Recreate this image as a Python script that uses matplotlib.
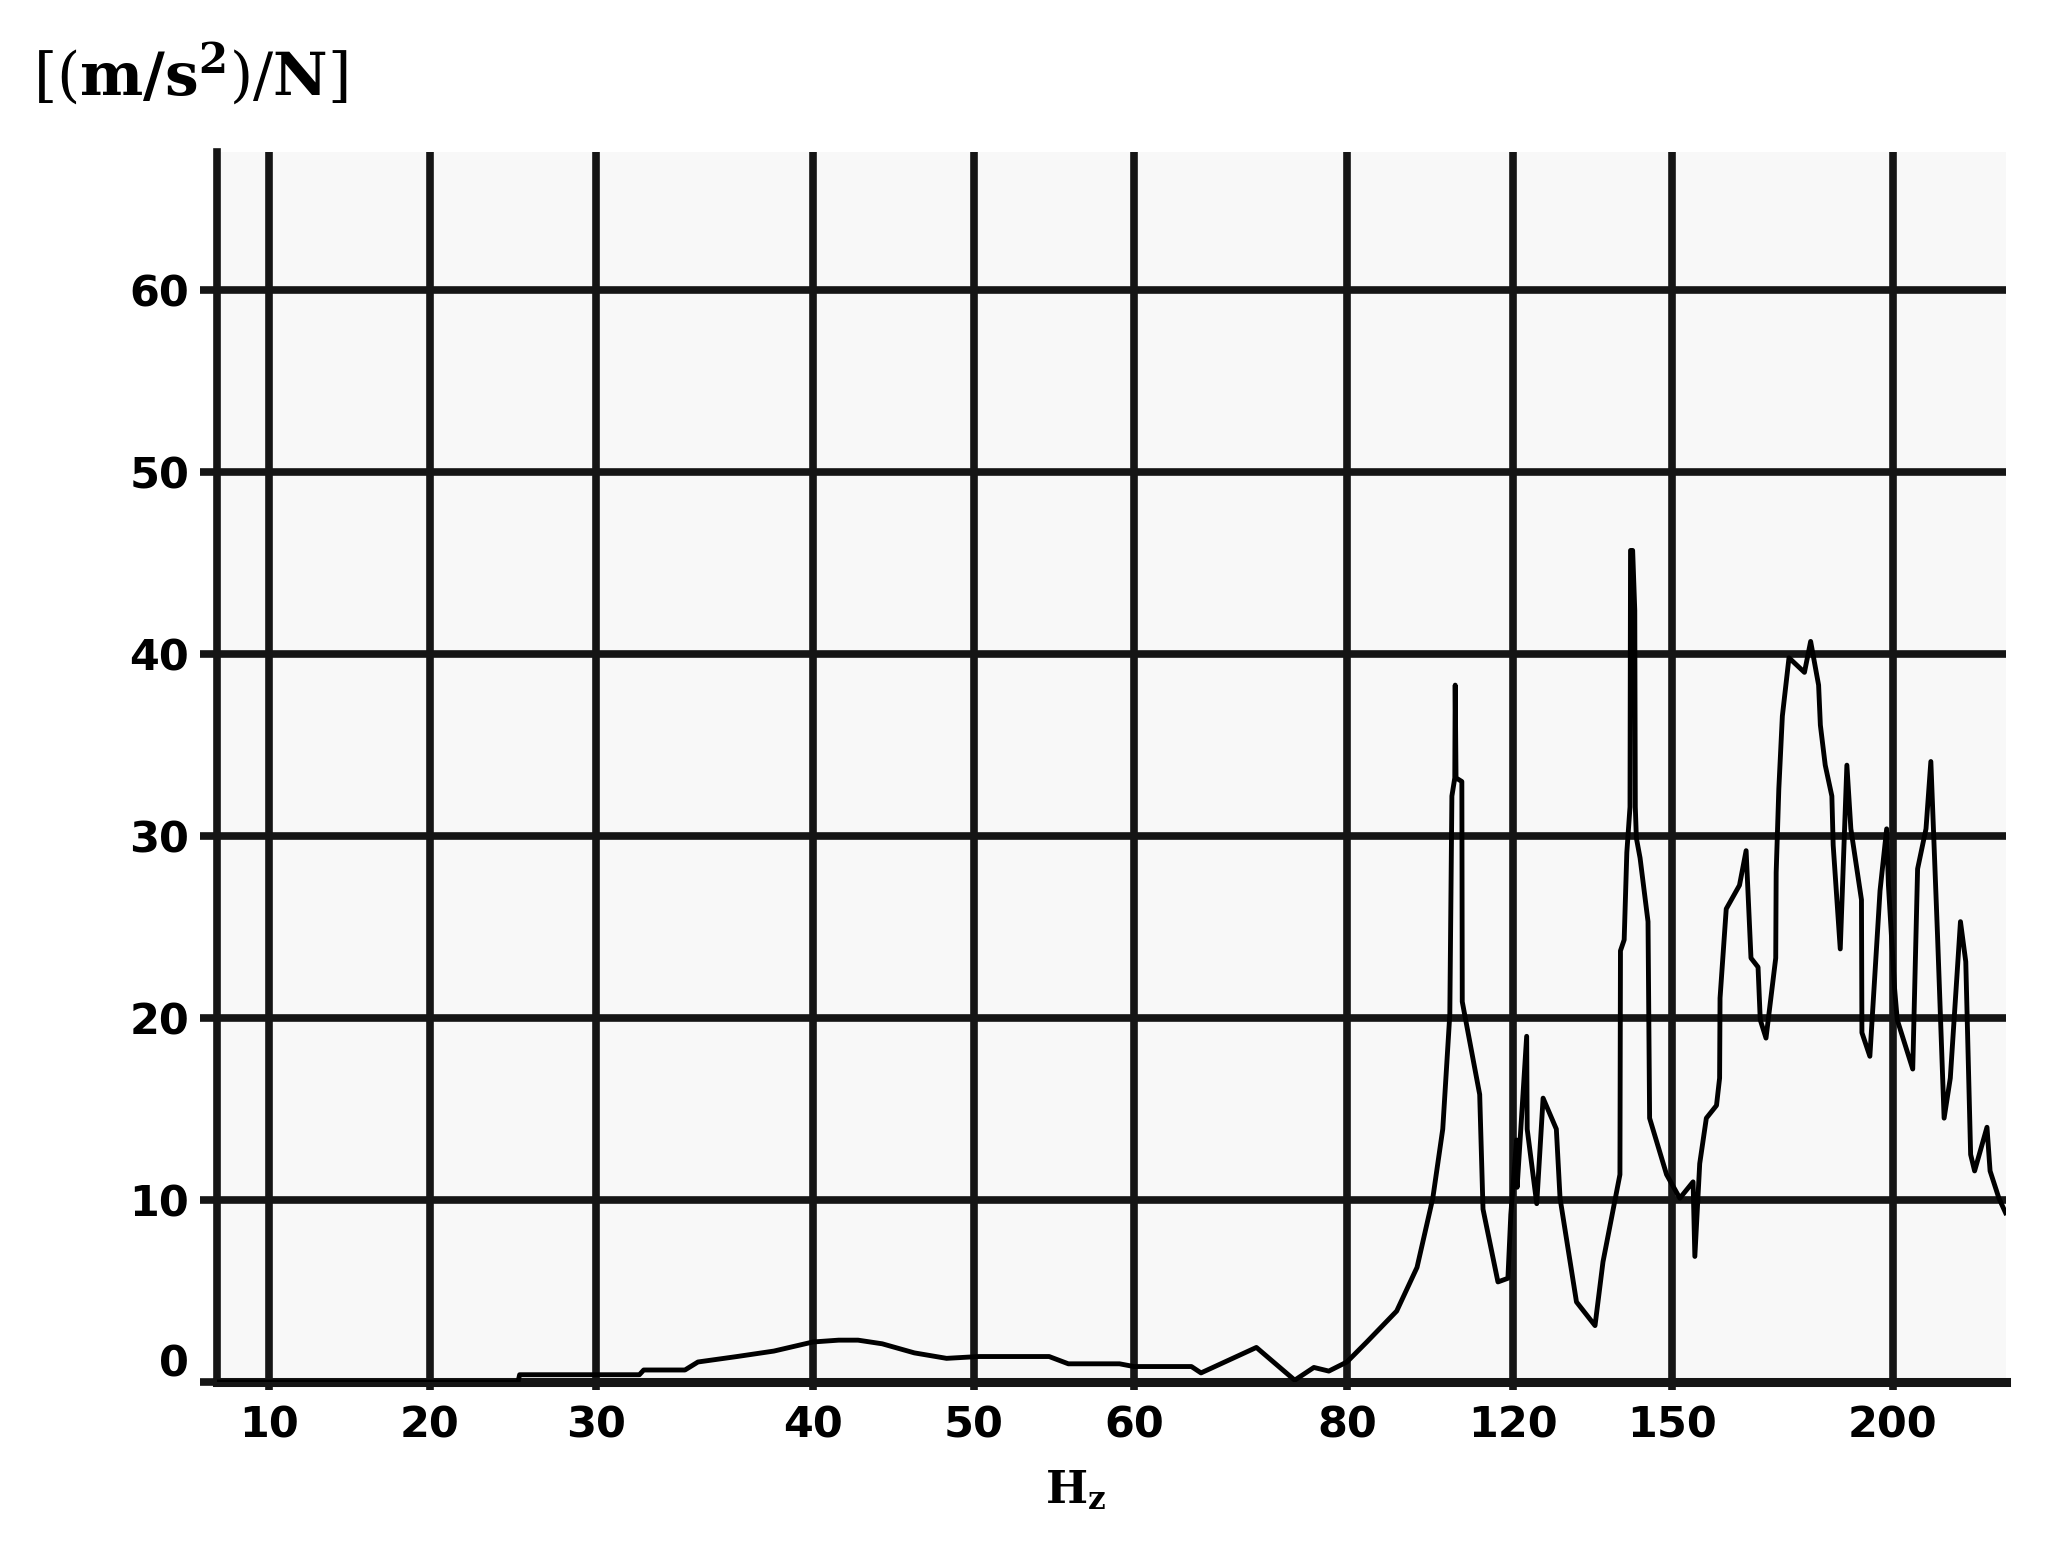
import numpy as np
import matplotlib
matplotlib.use("Agg")
import matplotlib.pyplot as plt
from matplotlib.transforms import ScaledTranslation

# frequency response (Hz, (m/s^2)/N)
freq = [6.8, 25.3, 25.4, 32.0, 32.2, 34.1, 34.7, 36.5, 38.2, 40.0,
        41.6, 42.8, 44.3, 46.3, 48.3, 50.3, 54.7, 55.9, 59.1, 60.0,
        65.4, 66.3, 71.5, 75.1, 76.9, 78.3, 80.0, 84.8, 92.0, 96.9,
        100.7, 103.1, 104.8, 105.3, 106.0, 106.1, 106.3, 107.7, 107.8, 112.0,
        112.8, 116.4, 118.8, 119.5, 120.7, 120.8, 122.6, 122.7, 124.5, 125.7,
        128.2, 128.9, 132.0, 135.5, 137.0, 140.2, 140.3, 141.0, 141.5, 142.1,
        142.2, 142.6, 143.0, 143.1, 143.3, 144.0, 145.5, 145.8, 149.0, 151.8,
        154.8, 155.2, 156.3, 157.8, 160.1, 160.8, 160.9, 162.3, 165.3, 166.8,
        167.9, 169.5, 170.0, 171.3, 173.5, 173.6, 174.2, 175.0, 176.5, 180.0,
        181.4, 183.2, 183.6, 184.7, 186.2, 186.5, 188.1, 189.6, 190.5, 192.9,
        193.0, 194.8, 197.1, 198.6, 199.0, 200.4, 201.0, 204.5, 205.6, 207.5,
        208.6, 210.1, 211.6, 213.0, 215.3, 216.5, 217.6, 218.5, 221.3, 222.0,
        224.0, 225.5]
accel = [0.0, 0.0, 0.4, 0.4, 0.66, 0.66, 1.1, 1.4, 1.7, 2.2,
         2.3, 2.3, 2.1, 1.6, 1.3, 1.4, 1.4, 1.0, 1.0, 0.85,
         0.85, 0.5, 1.9, 0.1, 0.8, 0.6, 1.1, 2.2, 3.9, 6.3,
         10.1, 13.9, 20.2, 32.2, 33.2, 38.3, 33.2, 33.0, 20.9, 15.8,
         9.5, 5.5, 5.7, 9.2, 13.3, 10.7, 19.0, 13.9, 9.8, 15.6,
         13.9, 10.1, 4.4, 3.1, 6.6, 11.4, 23.7, 24.3, 29.1, 31.6,
         45.7, 45.7, 42.4, 31.6, 29.9, 28.8, 25.3, 14.5, 11.4, 10.1,
         11.0, 6.9, 12.0, 14.5, 15.2, 16.7, 21.1, 26.0, 27.3, 29.2,
         23.3, 22.8, 19.9, 18.9, 23.3, 28.0, 32.6, 36.6, 39.8, 39.0,
         40.7, 38.3, 36.1, 33.9, 32.2, 29.5, 23.8, 33.9, 30.4, 26.5,
         19.2, 17.9, 27.0, 30.4, 27.3, 21.6, 19.9, 17.2, 28.2, 30.4,
         34.1, 24.6, 14.5, 16.7, 25.3, 23.1, 12.5, 11.6, 14.0, 11.6,
         10.1, 9.3]

x_ticks = [10, 20, 30, 40, 50, 60, 80, 120, 150, 200]
y_ticks = [0, 10, 20, 30, 40, 50, 60]

# the original axis is neither linear nor log: piecewise spacing between labels
knot_hz = [5, 10, 20, 30, 40, 50, 60, 80, 120, 150, 200, 250]
knot_pos = [188.5, 269, 430, 596, 813, 974, 1134, 1347, 1513, 1672, 1893, 2114]


def forward(v):
    return np.interp(v, knot_hz, knot_pos)


def inverse(v):
    return np.interp(v, knot_pos, knot_hz)


fig = plt.figure(figsize=(20.57, 15.6), dpi=100)
ax = fig.add_axes([0.1055, 0.1141, 0.8697, 0.7885])
ax.set_facecolor("#f8f8f8")

ax.set_xscale("function", functions=(forward, inverse))
ax.set_xlim(6.77, 225.6)
ax.set_ylim(0, 67.6)

ax.plot(freq, accel, color="black", lw=3.5, zorder=3)

grid_c = "#151515"
ax.set_xticks(x_ticks)
ax.set_yticks(y_ticks)
ax.set_xticklabels([str(t) for t in x_ticks])
ax.set_yticklabels([str(t) for t in y_ticks])
ax.minorticks_off()
ax.grid(True, color=grid_c, lw=5.5)
ax.set_axisbelow(True)

for s in ["top", "right"]:
    ax.spines[s].set_visible(False)
ax.spines["left"].set_linewidth(5.5)
ax.spines["left"].set_color(grid_c)
ax.spines["bottom"].set_linewidth(6.5)
ax.spines["bottom"].set_color(grid_c)

ax.tick_params(axis="y", direction="out", length=12, width=5.5, color=grid_c, pad=8)
ax.tick_params(axis="x", direction="out", length=6, width=5.5, color=grid_c, pad=10)
for lab in ax.get_xticklabels() + ax.get_yticklabels():
    lab.set_fontsize(31)
    lab.set_fontweight("bold")
    lab.set_fontfamily("DejaVu Sans")

# the 0 label sits a little above the baseline in the original
zero = ax.get_yticklabels()[0]
zero.set_transform(zero.get_transform() + ScaledTranslation(0, 0.22, fig.dpi_scale_trans))

plt.rcParams["mathtext.fontset"] = "dejavuserif"
fig.text(0.016, 0.952, r"$[\left(\mathbf{m/s^2}\right)/\mathbf{N}]$",
         fontsize=43, ha="left", va="center")
fig.text(0.523, 0.045, r"$\mathbf{H_z}$", fontsize=32, ha="center", va="center")

fig.savefig("out.png", dpi=100, facecolor="white")
